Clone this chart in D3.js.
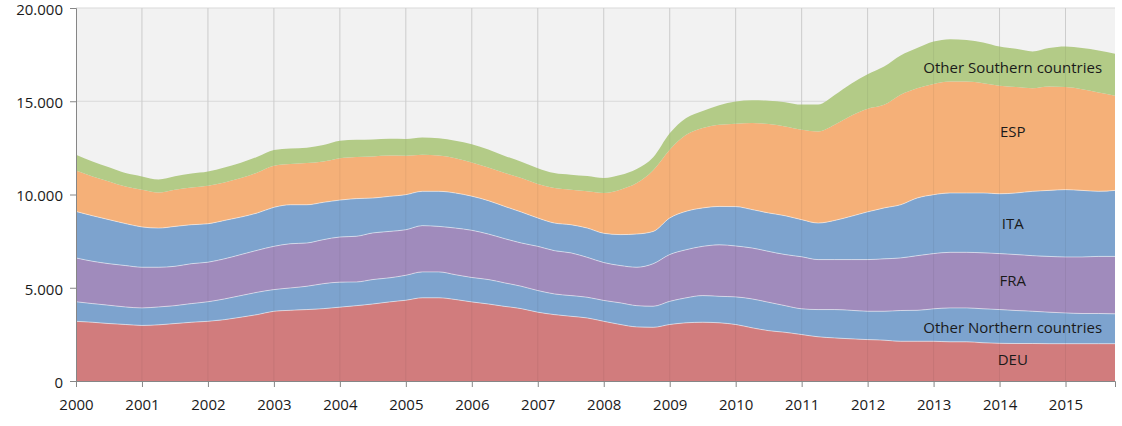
<!DOCTYPE html>
<html>
<head>
<meta charset="utf-8">
<script src="https://cdn.jsdelivr.net/npm/d3@7"></script>
<style>
  html, body { margin: 0; padding: 0; background: #ffffff; }
  svg { display: block; font-family: "Open Sans", "Liberation Sans", sans-serif; }
</style>
</head>
<body>
<svg id="chart" width="1122" height="426"></svg>
<script>
// Quarterly observations, 2000Q1 .. 2015Q4
const startYear = 2000;
const quarters = d3.range(64).map(i => startYear + i / 4);

const seriesNames = ["DEU", "Other Northern countries", "FRA", "ITA", "ESP", "Other Southern countries"];

const DEU = [3200,3150,3080,3030,2980,3010,3080,3150,3200,3290,3420,3560,3740,3790,3830,3880,
  3960,4040,4130,4240,4330,4460,4460,4370,4240,4130,4000,3880,3690,3560,3470,3380,
  3200,3030,2900,2880,3030,3120,3150,3120,3030,2850,2700,2610,2490,2370,2310,2260,
  2220,2190,2130,2130,2130,2100,2100,2050,2020,2010,2010,2000,2000,2000,2000,2000];

const ONC = [1050,1000,980,940,940,960,960,1000,1050,1110,1160,1200,1160,1200,1250,1340,
  1340,1270,1310,1290,1340,1390,1390,1330,1310,1310,1260,1200,1160,1110,1110,1110,
  1120,1160,1140,1130,1240,1340,1430,1420,1480,1550,1520,1430,1380,1460,1520,1530,
  1520,1550,1650,1660,1740,1820,1820,1820,1810,1770,1730,1690,1650,1620,1620,1600];

const FRA = [2350,2270,2230,2220,2180,2130,2110,2140,2120,2150,2200,2250,2320,2370,2320,2360,
  2420,2450,2500,2490,2440,2480,2440,2500,2530,2440,2370,2320,2370,2320,2290,2140,
  2030,2000,2060,2280,2510,2580,2640,2760,2730,2730,2730,2740,2790,2680,2680,2720,
  2770,2810,2820,2930,2960,2980,2980,3000,3000,3000,2980,2990,3000,3030,3060,3080];

const ITA = [2490,2440,2360,2250,2160,2100,2140,2090,2060,2060,2010,2000,2090,2090,2050,2000,
  1980,2020,1870,1880,1880,1840,1880,1880,1830,1790,1730,1660,1520,1480,1510,1570,
  1570,1660,1780,1730,1960,2060,2060,2060,2110,2060,2060,2080,1990,1960,2100,2320,
  2560,2730,2850,3090,3160,3180,3180,3210,3210,3300,3450,3540,3610,3570,3490,3540];

const ESP = [2200,2110,2050,1990,2000,1910,1970,2000,2040,2040,2090,2170,2230,2180,2240,2190,
  2250,2230,2230,2190,2090,1960,1920,1870,1810,1780,1790,1820,1820,1880,1880,1970,
  2160,2410,2730,3280,3660,4100,4280,4380,4450,4640,4770,4790,4820,4910,5130,5390,
  5530,5530,5900,5890,5940,5980,5980,5890,5790,5680,5530,5570,5500,5430,5300,5080];

const OSC = [840,800,760,720,710,700,720,740,760,800,820,840,840,830,820,880,
  930,920,910,900,900,930,920,930,980,960,920,880,850,800,800,820,
  800,780,760,700,880,900,920,1050,1180,1220,1250,1300,1350,1450,1600,1720,
  1850,2050,2100,2150,2270,2270,2230,2180,2100,2050,1970,2060,2170,2200,2250,2250];

const seriesValues = [DEU, ONC, FRA, ITA, ESP, OSC];
const seriesColors = ["#d17c7d", "#7da3ce", "#a08bbc", "#7da3ce", "#f5b078", "#b3cb87"];

const yTicks = [0, 5000, 10000, 15000, 20000];
const xTicks = d3.range(2000, 2016);

// Layout / styling
const W = 1122, H = 426;
const plot = { left: 76, right: 1115, top: 8, bottom: 381 };
const labelNudge = [-3, 1, -2, 0, -8, 0]; // px, visual placement of in-chart labels

const svg = d3.select("#chart");

const x = d3.scaleLinear().domain([2000, 2015.75]).range([plot.left, plot.right]);
const y = d3.scaleLinear().domain([0, 20000]).range([plot.bottom, plot.top]);

// build table
const table = quarters.map((q, i) => {
  const row = { t: q };
  seriesNames.forEach((n, k) => row[n] = seriesValues[k][i]);
  return row;
});
const stack = d3.stack().keys(seriesNames)(table);

// background
svg.append("rect")
  .attr("x", plot.left).attr("y", plot.top)
  .attr("width", plot.right - plot.left).attr("height", plot.bottom - plot.top)
  .attr("fill", "#f2f2f2");

// gridlines (behind)
svg.append("g").selectAll("line").data(xTicks.slice(1)).join("line")
  .attr("x1", d => x(d)).attr("x2", d => x(d))
  .attr("y1", plot.top).attr("y2", plot.bottom)
  .attr("stroke", "#d9d9d9").attr("stroke-width", 1);
svg.append("g").selectAll("line").data(yTicks.slice(1)).join("line")
  .attr("x1", plot.left).attr("x2", plot.right)
  .attr("y1", d => y(d)).attr("y2", d => y(d))
  .attr("stroke", "#d9d9d9").attr("stroke-width", 1);

// areas
const area = d3.area()
  .x(d => x(d.data.t))
  .y0(d => y(d[0]))
  .y1(d => y(d[1]))
  .curve(d3.curveMonotoneX);

svg.append("g").selectAll("path").data(stack).join("path")
  .attr("d", area)
  .attr("fill", (d, i) => seriesColors[i]);

// faint gridlines showing through the areas
svg.append("g").selectAll("line").data(xTicks.slice(1)).join("line")
  .attr("x1", d => x(d)).attr("x2", d => x(d))
  .attr("y1", plot.top).attr("y2", plot.bottom)
  .attr("stroke", "#000").attr("stroke-opacity", 0.06).attr("stroke-width", 1);

// thin white separators between layers
const line = d3.line()
  .x(d => x(d.data.t))
  .y(d => y(d[1]))
  .curve(d3.curveMonotoneX);
svg.append("g").selectAll("path").data(stack.slice(0, 4)).join("path")
  .attr("d", line)
  .attr("fill", "none")
  .attr("stroke", "#ffffff")
  .attr("stroke-opacity", 0.5)
  .attr("stroke-width", 1);

// axes
const fmt = d3.formatLocale({ decimal: ",", thousands: ".", grouping: [3], currency: ["", ""] }).format(",.0f");

const yAxis = d3.axisLeft(y).tickValues(yTicks).tickSize(6).tickPadding(7).tickFormat(fmt);
const gy = svg.append("g").attr("transform", `translate(${plot.left},0)`).call(yAxis);
gy.select(".domain").attr("stroke", "#868686");
gy.selectAll(".tick line").attr("stroke", "#868686");
gy.selectAll("text").attr("font-size", 15).attr("fill", "#1a1a1a")
  .attr("font-family", "'Open Sans', sans-serif");
gy.selectAll(".tick text").attr("dy", "0.42em");

const xAxis = d3.axisBottom(x).tickValues(xTicks).tickSize(6).tickPadding(12).tickFormat(d3.format("d"));
const gx = svg.append("g").attr("transform", `translate(0,${plot.bottom})`).call(xAxis);
gx.select(".domain").attr("stroke", "#868686");
gx.selectAll(".tick line").attr("stroke", "#868686");
gx.selectAll("text").attr("font-size", 15).attr("fill", "#1a1a1a")
  .attr("font-family", "'Open Sans', sans-serif");

// series labels, placed in the middle of each layer near the end of the period
const labelIdx = 57;
const labelX = x(2014.2);
svg.append("g").selectAll("text").data(stack).join("text")
  .attr("x", labelX)
  .attr("y", (d, i) => y((d[labelIdx][0] + d[labelIdx][1]) / 2) + labelNudge[i])
  .attr("dy", "0.35em")
  .attr("text-anchor", "middle")
  .attr("font-size", 15)
  .attr("fill", "#1a1a1a")
  .text(d => d.key);
</script>
</body>
</html>
